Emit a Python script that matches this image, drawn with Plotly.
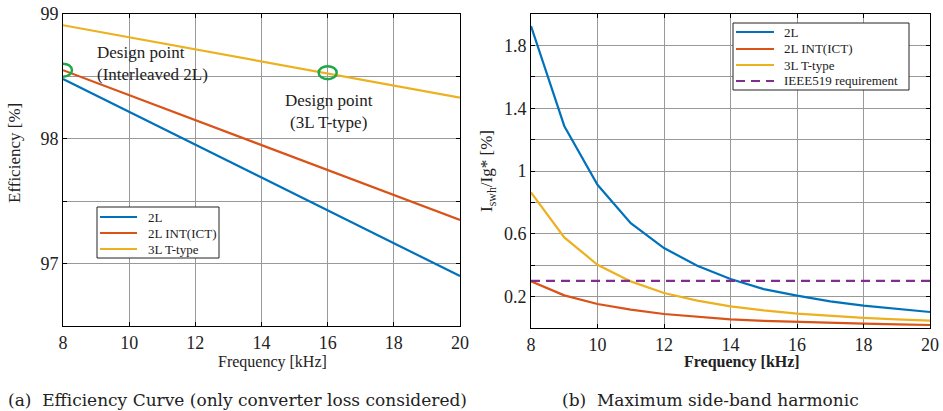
import plotly.graph_objects as go

# ---- data ----
freq_eff = [8, 20]
eff_2l = [98.48, 96.90]
eff_2l_int = [98.55, 97.35]
eff_3l = [98.91, 98.33]

design_x = [8, 16]
design_y = [98.55, 98.53]

freq_h = [8, 9, 10, 11, 12, 13, 14, 15, 16, 17, 18, 19, 20]
h_2l = [1.923, 1.287, 0.912, 0.668, 0.509, 0.397, 0.312, 0.248, 0.206, 0.170, 0.142, 0.121, 0.102]
h_2l_int = [0.297, 0.208, 0.153, 0.117, 0.089, 0.070, 0.055, 0.045, 0.038, 0.032, 0.028, 0.023, 0.019]
h_3l = [0.863, 0.577, 0.403, 0.297, 0.223, 0.174, 0.138, 0.112, 0.091, 0.076, 0.064, 0.055, 0.047]
ieee_limit = 0.3

series_names = ["2L", "2L INT(ICT)", "3L T-type", "IEEE519 requirement"]

eff_tickvals = [97, 98, 99]
h_tickvals = [0.2, 0.6, 1.0, 1.4, 1.8]
h_ticktext = ["0.2", "0.6", "1", "1.4", "1.8"]
x_tickvals = [8, 10, 12, 14, 16, 18, 20]

BLUE = "#0072BD"
ORANGE = "#D95319"
YELLOW = "#EDB120"
PURPLE = "#7E2F8E"
GREEN = "#1FA84A"
FONT = "Liberation Serif"
DASH = "9px,6px"
LW = 2.2
GRID = "#999999"

W, H = 943, 411


def px(x):
    return x / W


def py(y):
    return 1 - y / H


fig = go.Figure()

# left plot
for yv, col, nm in zip([eff_2l, eff_2l_int, eff_3l], [BLUE, ORANGE, YELLOW], series_names[:3]):
    fig.add_trace(go.Scatter(x=freq_eff, y=yv, mode="lines", name=nm,
                             line=dict(color=col, width=LW), xaxis="x", yaxis="y"))

# right plot
for yv, col, nm in zip([h_2l, h_2l_int, h_3l], [BLUE, ORANGE, YELLOW], series_names[:3]):
    fig.add_trace(go.Scatter(x=freq_h, y=yv, mode="lines", name=nm,
                             line=dict(color=col, width=LW), xaxis="x2", yaxis="y2"))
fig.add_trace(go.Scatter(x=[freq_h[0], freq_h[-1]], y=[ieee_limit, ieee_limit], mode="lines",
                         name=series_names[3],
                         line=dict(color=PURPLE, width=LW, dash=DASH),
                         xaxis="x2", yaxis="y2"))

shapes = []
# design point ellipses
for dx, dy in zip(design_x, design_y):
    shapes.append(dict(type="circle", xref="x", yref="y", xsizemode="pixel", ysizemode="pixel",
                       xanchor=dx, yanchor=dy, x0=-9, x1=9, y0=-6.5, y1=6.5,
                       line=dict(color=GREEN, width=2.5), layer="above"))

annotations = []


def add_legend(box, rows, line_x, text_x, entries):
    x0, y0, x1, y1 = box
    shapes.append(dict(type="rect", xref="paper", yref="paper",
                       x0=px(x0), x1=px(x1), y0=py(y1), y1=py(y0),
                       line=dict(color="#222", width=1), fillcolor="white", layer="above"))
    for ry, (nm, col, dash) in zip(rows, entries):
        shapes.append(dict(type="line", xref="paper", yref="paper",
                           x0=px(line_x[0]), x1=px(line_x[1]), y0=py(ry), y1=py(ry),
                           line=dict(color=col, width=LW, dash=dash), layer="above"))
        annotations.append(dict(text=nm, x=px(text_x), y=py(ry), xanchor="left", yanchor="middle",
                                font=dict(size=13)))


add_legend((97, 207, 219, 258), [217, 233, 249], (100, 137), 146,
           [(series_names[0], BLUE, "solid"), (series_names[1], ORANGE, "solid"),
            (series_names[2], YELLOW, "solid")])
add_legend((733, 23, 909, 90), [32, 49, 65, 81], (736, 774), 782,
           [(series_names[0], BLUE, "solid"), (series_names[1], ORANGE, "solid"),
            (series_names[2], YELLOW, "solid"), (series_names[3], PURPLE, DASH)])

axis_common = dict(showline=True, linecolor="black", linewidth=1, mirror="allticks",
                   showgrid=True, gridcolor=GRID, gridwidth=1, zeroline=False,
                   automargin=False, ticks="inside", ticklen=4, tickcolor="black", tickwidth=1,
                   tickfont=dict(family=FONT, size=18, color="#222"))

fig.update_layout(
    width=W, height=H, autosize=False,
    margin=dict(l=0, r=0, t=0, b=0, pad=0, autoexpand=False),
    paper_bgcolor="white", plot_bgcolor="white",
    font=dict(family=FONT, color="#222"),
    showlegend=False,
    xaxis=dict(domain=[px(63), px(460)], range=[8, 20], tickmode="array", tickvals=x_tickvals,
               anchor="y", **axis_common),
    yaxis=dict(domain=[py(326), py(14)], range=[96.5, 99], tickmode="array", tickvals=eff_tickvals,
               minor=dict(tickmode="linear", tick0=96.5, dtick=0.5, showgrid=True, gridcolor=GRID,
                          gridwidth=1, ticks="inside", ticklen=4, tickcolor="black"),
               anchor="x", **axis_common),
    xaxis2=dict(domain=[px(531), px(930)], range=[8, 20], tickmode="array", tickvals=x_tickvals,
                anchor="y2", **axis_common),
    yaxis2=dict(domain=[py(328), py(14)], range=[0, 2], tickmode="array", tickvals=h_tickvals,
                ticktext=h_ticktext,
                minor=dict(tickmode="linear", tick0=0, dtick=0.2, showgrid=True, gridcolor=GRID,
                           gridwidth=1, ticks="inside", ticklen=4, tickcolor="black"),
                anchor="x2", **axis_common),
    shapes=shapes,
)

annotations += [
    dict(text="Design point<br>(Interleaved 2L)", x=px(95), y=py(63), xanchor="left", yanchor="middle",
         align="left", font=dict(size=17)),
    dict(text="Design point<br>(3L T-type)", x=px(329), y=py(111), xanchor="center", yanchor="middle",
         align="center", font=dict(size=17)),
    dict(text="Efficiency [%]", x=px(14), y=py(153), textangle=-90, xanchor="center", yanchor="middle",
         font=dict(size=17)),
    dict(text="Frequency [kHz]", x=px(272), y=py(362), xanchor="center", yanchor="middle",
         font=dict(size=16)),
    dict(text="I<sub>swh</sub>/Ig* [%]", x=px(488), y=py(171), textangle=-90, xanchor="center",
         yanchor="middle", font=dict(size=17)),
    dict(text="<b>Frequency [kHz]</b>", x=px(742), y=py(362), xanchor="center", yanchor="middle",
         font=dict(size=16)),
    dict(text="(a)  Efficiency Curve (only converter loss considered)", x=px(237), y=py(400),
         xanchor="center", yanchor="middle", font=dict(size=17, family="DejaVu Serif")),
    dict(text="(b)  Maximum side-band harmonic", x=px(710), y=py(400),
         xanchor="center", yanchor="middle", font=dict(size=17, family="DejaVu Serif")),
]
for a in annotations:
    a.update(xref="paper", yref="paper", showarrow=False)
    a["font"].setdefault("family", FONT)
    a["font"]["color"] = "#222"
fig.update_layout(annotations=annotations)

fig.write_html("out.html", config={"displayModeBar": False},
               post_script="document.body.style.margin='0';document.body.style.overflow='hidden';"
                           "document.documentElement.style.overflow='hidden';")
